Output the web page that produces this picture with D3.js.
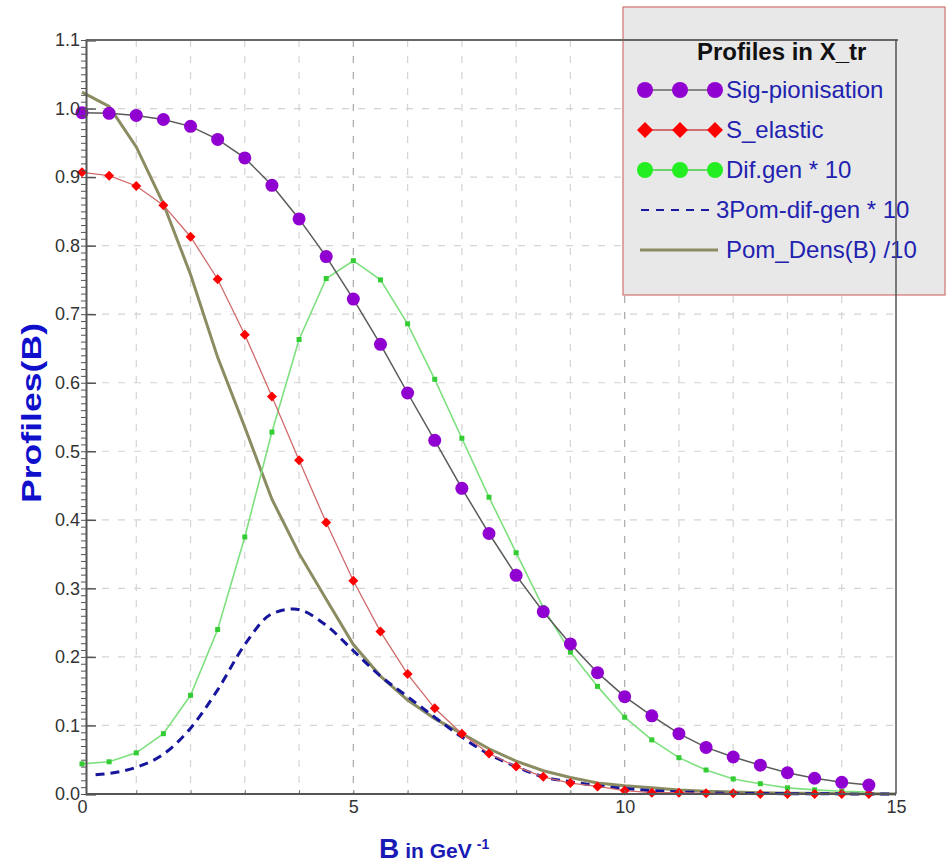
<!DOCTYPE html>
<html>
<head>
<meta charset="utf-8">
<script src="https://cdn.jsdelivr.net/npm/d3@7"></script>
<style>
  body { margin: 0; background: #fff; }
  svg { display: block; font-family: "Liberation Sans", Arial, sans-serif; }
</style>
</head>
<body>
<svg id="chart" width="949" height="863"></svg>
<script>
const bPoints = [0, 0.5, 1, 1.5, 2, 2.5, 3, 3.5, 4, 4.5, 5, 5.5, 6, 6.5, 7, 7.5, 8, 8.5, 9, 9.5, 10, 10.5, 11, 11.5, 12, 12.5, 13, 13.5, 14, 14.5];
const sigPionisation = [0.994, 0.993, 0.990, 0.984, 0.974, 0.955, 0.928, 0.888, 0.839, 0.784, 0.722, 0.656, 0.585, 0.516, 0.446, 0.380, 0.319, 0.266, 0.219, 0.177, 0.142, 0.114, 0.088, 0.068, 0.054, 0.042, 0.031, 0.023, 0.017, 0.013];
const sElastic = [0.907, 0.902, 0.887, 0.859, 0.813, 0.751, 0.670, 0.580, 0.487, 0.396, 0.311, 0.237, 0.175, 0.125, 0.088, 0.059, 0.040, 0.025, 0.016, 0.011, 0.005, 0.002, 0.002, 0.001, 0.001, 0.000, 0.000, 0.000, 0.000, 0.000];
const difGen10 = [0.044, 0.047, 0.060, 0.088, 0.144, 0.240, 0.375, 0.528, 0.663, 0.752, 0.778, 0.750, 0.686, 0.605, 0.519, 0.433, 0.352, 0.272, 0.207, 0.157, 0.112, 0.079, 0.053, 0.035, 0.022, 0.015, 0.009, 0.006, 0.004, 0.003];

const pom3B = [0.25, 0.5, 1, 1.5, 2, 2.5, 3, 3.5, 3.9, 4.5, 5, 5.5, 6, 6.5, 7, 7.5, 8, 8.5, 9, 9.5, 10, 10.5, 11, 11.5, 12, 13, 14, 15];
const pom3DifGen10 = [0.028, 0.030, 0.039, 0.058, 0.096, 0.152, 0.218, 0.263, 0.270, 0.246, 0.209, 0.172, 0.142, 0.112, 0.083, 0.058, 0.040, 0.025, 0.018, 0.012, 0.008, 0.005, 0.003, 0.002, 0.001, 0.0005, 0.0002, 0];

const pomB = [0, 0.5, 1, 1.5, 2, 2.5, 3, 3.5, 4, 4.5, 5, 5.5, 6, 6.5, 7, 7.5, 8, 8.5, 9, 9.5, 10, 10.5, 11, 11.5, 12, 12.5, 13, 13.5, 14, 14.5, 15];
const pomDens10 = [1.024, 1.003, 0.944, 0.861, 0.758, 0.637, 0.535, 0.430, 0.351, 0.284, 0.218, 0.172, 0.137, 0.110, 0.088, 0.066, 0.048, 0.034, 0.024, 0.016, 0.012, 0.009, 0.006, 0.004, 0.003, 0.002, 0.001, 0.001, 0.0005, 0.0002, 0];

const xTicks = [0, 5, 10, 15];
const yTicks = [0, 0.1, 0.2, 0.3, 0.4, 0.5, 0.6, 0.7, 0.8, 0.9, 1.0, 1.1];
const legendNames = ['Sig-pionisation', 'S_elastic', 'Dif.gen * 10', '3Pom-dif-gen * 10', 'Pom_Dens(B) /10'];

const svg = d3.select('#chart');
const x = d3.scaleLinear().domain([0, 15]).range([82, 896]);
const y = d3.scaleLinear().domain([0, 1.1]).range([794, 40]);
const axisX = 86;

// grid
const grid = svg.append('g');
grid.selectAll('line.vg')
  .data(d3.range(1, 15))
  .enter().append('line')
  .attr('x1', d => x(d)).attr('x2', d => x(d))
  .attr('y1', y(1.1)).attr('y2', y(0))
  .style('stroke', d => d % 5 === 0 ? '#a8a8a8' : '#d4d4d4')
  .style('stroke-width', 1.2)
  .style('stroke-dasharray', '7,9');
grid.selectAll('line.hg')
  .data(yTicks.slice(1, -1))
  .enter().append('line')
  .attr('x1', axisX).attr('x2', x(15))
  .attr('y1', d => y(d)).attr('y2', d => y(d))
  .style('stroke', '#d4d4d4')
  .style('stroke-width', 1.2)
  .style('stroke-dasharray', '7,9');

// series
const linePath = (xs, ys, curve) => d3.line()
  .x((d, i) => x(xs[i]))
  .y(d => y(d))
  .curve(curve)(ys);

svg.append('path')
  .attr('d', linePath(pomB, pomDens10, d3.curveLinear))
  .style('fill', 'none').style('stroke', '#8c8c62').style('stroke-width', 3);

svg.append('path')
  .attr('d', linePath(pom3B, pom3DifGen10, d3.curveMonotoneX))
  .style('fill', 'none').style('stroke', '#16169c').style('stroke-width', 3)
  .style('stroke-dasharray', '9,6');

svg.append('path')
  .attr('d', linePath(bPoints, difGen10, d3.curveLinear))
  .style('fill', 'none').style('stroke', '#7ee07e').style('stroke-width', 1.6);
svg.selectAll('rect.gm')
  .data(difGen10)
  .enter().append('rect')
  .attr('x', (d, i) => x(bPoints[i]) - 2.5)
  .attr('y', d => y(d) - 2.5)
  .attr('width', 5).attr('height', 5)
  .style('fill', '#33cc33');

svg.append('path')
  .attr('d', linePath(bPoints, sElastic, d3.curveLinear))
  .style('fill', 'none').style('stroke', '#d06a6a').style('stroke-width', 1.3);
const diamond = (cx, cy, r) => `M${cx},${cy - r}L${cx + r},${cy}L${cx},${cy + r}L${cx - r},${cy}Z`;
svg.selectAll('path.rm')
  .data(sElastic)
  .enter().append('path')
  .attr('d', (d, i) => diamond(x(bPoints[i]), y(d), 5))
  .style('fill', '#ff0000');

svg.append('path')
  .attr('d', linePath(bPoints, sigPionisation, d3.curveLinear))
  .style('fill', 'none').style('stroke', '#5a5a5a').style('stroke-width', 1.5);
svg.selectAll('circle.pm')
  .data(sigPionisation)
  .enter().append('circle')
  .attr('cx', (d, i) => x(bPoints[i]))
  .attr('cy', d => y(d))
  .attr('r', 6.5)
  .style('fill', '#9000d0');

// axes
const yMinor = svg.append('g')
  .attr('transform', `translate(${axisX},0)`)
  .call(d3.axisLeft(y).tickValues(d3.range(0, 1.1001, 0.01)).tickSize(5).tickFormat(''));
yMinor.select('.domain').remove();
yMinor.selectAll('line').style('stroke', '#555');

const yAxis = svg.append('g')
  .attr('transform', `translate(${axisX},0)`)
  .call(d3.axisLeft(y).tickValues(yTicks).tickSize(-10).tickPadding(6).tickFormat(d3.format('.1f')));
yAxis.select('.domain').style('stroke', '#555').style('stroke-width', 2);
yAxis.selectAll('line').style('stroke', '#555').style('stroke-width', 1.5);
yAxis.selectAll('text').style('font-size', '18px').style('fill', '#333');

const xMinor = svg.append('g')
  .attr('transform', `translate(0,${y(0)})`)
  .call(d3.axisBottom(x).tickValues(d3.range(1, 15)).tickSize(-4).tickFormat(''));
xMinor.select('.domain').remove();
xMinor.selectAll('line').style('stroke', '#777');

const xAxis = svg.append('g')
  .attr('transform', `translate(0,${y(0)})`)
  .call(d3.axisBottom(x).tickValues(xTicks).tickSize(0).tickPadding(6).tickFormat(d3.format('d')));
xAxis.select('.domain').remove();
xAxis.selectAll('text').style('font-size', '18px').style('fill', '#333');
svg.append('line')
  .attr('x1', axisX).attr('x2', x(15))
  .attr('y1', y(0)).attr('y2', y(0))
  .style('stroke', '#555').style('stroke-width', 2);

// legend
const legend = svg.append('g');
legend.append('rect')
  .attr('x', 623).attr('y', 7).attr('width', 322).attr('height', 288)
  .style('fill', '#e8e8e8').style('stroke', '#d27070').style('stroke-width', 1.2);
legend.append('text')
  .attr('x', 697).attr('y', 60)
  .style('font-size', '24px').style('font-weight', 'bold').style('fill', '#111')
  .text('Profiles in X_tr');

const rowY = [90, 130, 170, 210, 250];
const symX = [645, 680, 715];
legend.append('line').attr('x1', 645).attr('x2', 715).attr('y1', rowY[0]).attr('y2', rowY[0])
  .style('stroke', '#666').style('stroke-width', 1.5);
symX.forEach(sx => legend.append('circle').attr('cx', sx).attr('cy', rowY[0]).attr('r', 8).style('fill', '#9000d0'));
legend.append('line').attr('x1', 645).attr('x2', 715).attr('y1', rowY[1]).attr('y2', rowY[1])
  .style('stroke', '#c84848').style('stroke-width', 1.5);
symX.forEach(sx => legend.append('path').attr('d', diamond(sx, rowY[1], 8)).style('fill', '#ff0000'));
legend.append('line').attr('x1', 645).attr('x2', 715).attr('y1', rowY[2]).attr('y2', rowY[2])
  .style('stroke', '#44cc44').style('stroke-width', 1.5);
symX.forEach(sx => legend.append('circle').attr('cx', sx).attr('cy', rowY[2]).attr('r', 8).style('fill', '#22ee22'));
legend.append('line').attr('x1', 641).attr('x2', 712).attr('y1', rowY[3]).attr('y2', rowY[3])
  .style('stroke', '#1a1aa0').style('stroke-width', 2).style('stroke-dasharray', '8,7');
legend.append('line').attr('x1', 640).attr('x2', 718).attr('y1', rowY[4]).attr('y2', rowY[4])
  .style('stroke', '#8c8c62').style('stroke-width', 3);

legend.selectAll('text.item')
  .data(legendNames)
  .enter().append('text')
  .attr('x', (d, i) => i === 3 ? 716 : 726)
  .attr('y', (d, i) => rowY[i] + 8)
  .style('font-size', '24px')
  .style('fill', '#2222b0')
  .text(d => d);

// frame over legend
svg.append('line')
  .attr('x1', axisX).attr('x2', x(15) + 2)
  .attr('y1', y(1.1)).attr('y2', y(1.1))
  .style('stroke', '#666').style('stroke-width', 2);
svg.append('line')
  .attr('x1', x(15)).attr('x2', x(15))
  .attr('y1', y(1.1)).attr('y2', y(0))
  .style('stroke', '#555').style('stroke-width', 1.5);

// axis titles
svg.append('text')
  .attr('transform', 'translate(41,413) rotate(-90)')
  .attr('text-anchor', 'middle')
  .attr('textLength', 180)
  .attr('lengthAdjust', 'spacingAndGlyphs')
  .style('font-size', '28px').style('font-weight', 'bold').style('fill', '#1010cc')
  .text('Profiles(B)');

const xTitle = svg.append('text')
  .attr('x', 379).attr('y', 858)
  .style('font-weight', 'bold').style('fill', '#1a1ab4');
xTitle.append('tspan').style('font-size', '28px').text('B');
xTitle.append('tspan').attr('dx', 6).style('font-size', '21px').text('in GeV');
xTitle.append('tspan').attr('dx', 5).attr('dy', -9).style('font-size', '14px').text('-1');
</script>
</body>
</html>
